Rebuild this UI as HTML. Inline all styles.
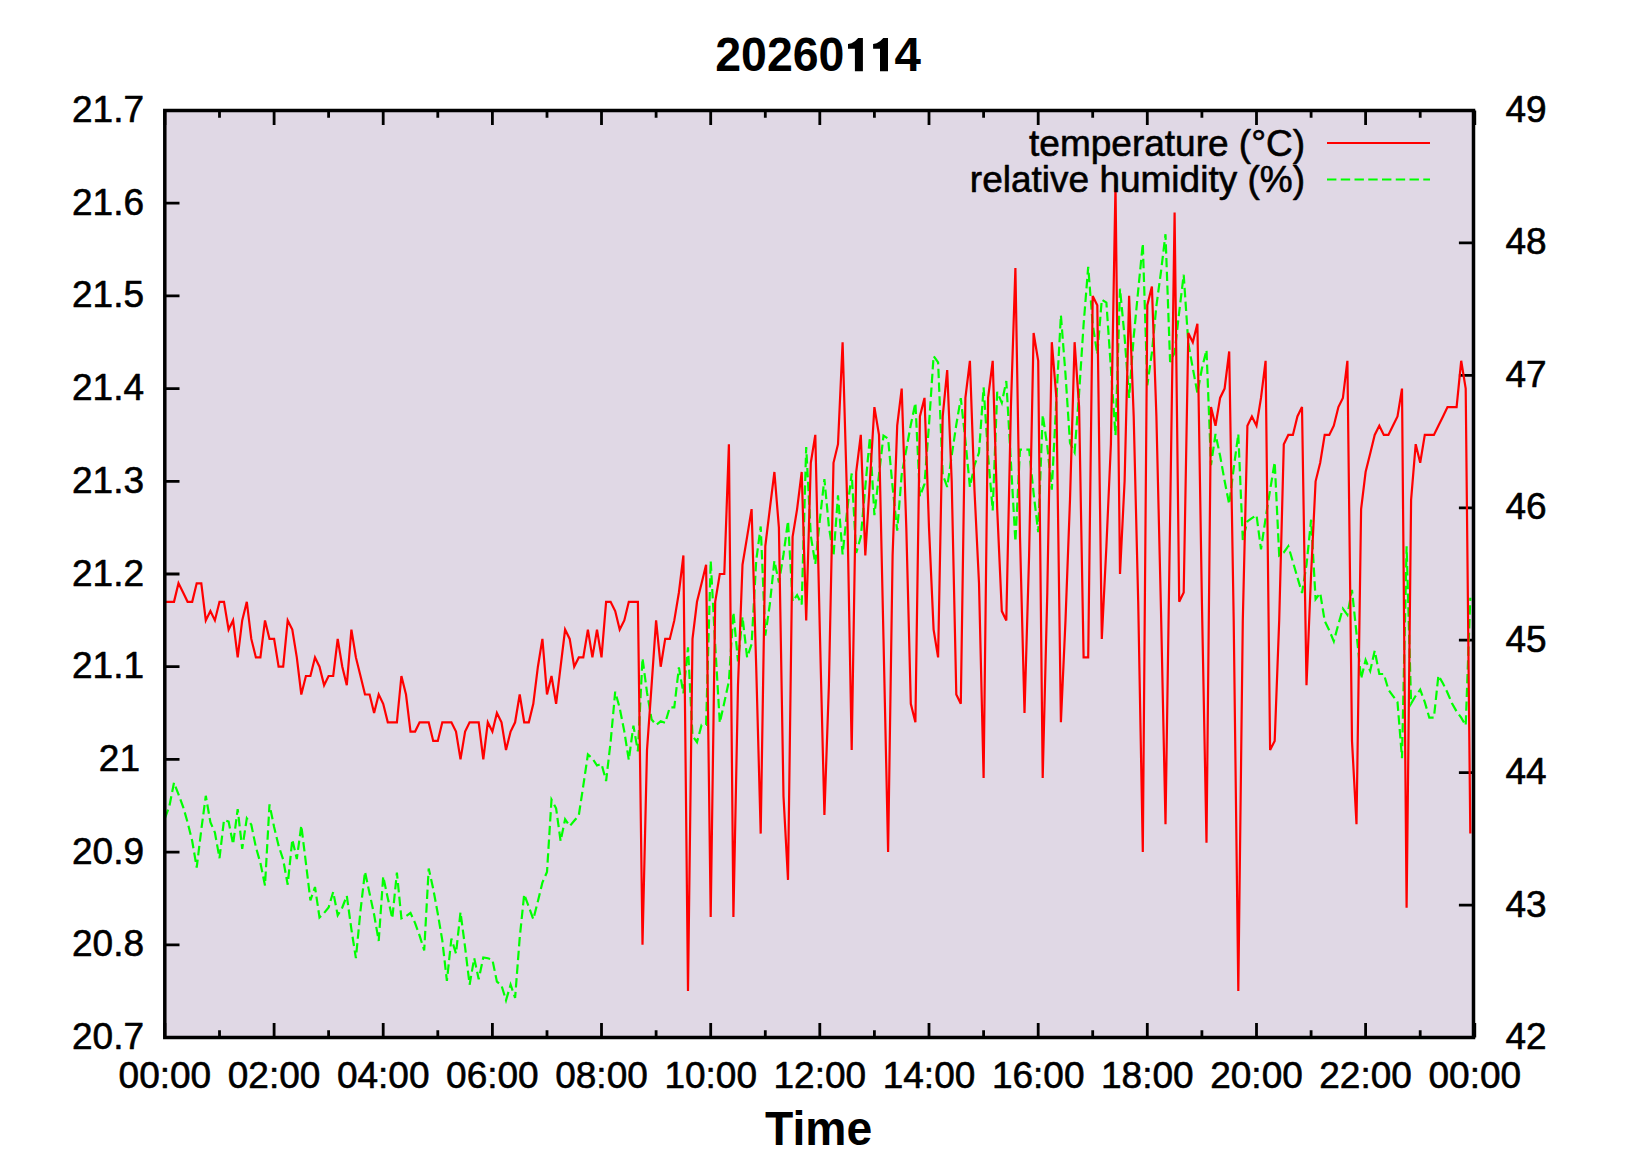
<!DOCTYPE html>
<html><head><meta charset="utf-8"><style>
html,body{margin:0;padding:0;background:#fff;}
svg{display:block;}
</style></head><body>
<svg width="1650" height="1155" viewBox="0 0 1650 1155">
<rect width="1650" height="1155" fill="#fff"/>
<rect x="164.8" y="110.5" width="1308.7" height="927.0" fill="#e0d8e5"/>
<path d="M164.9,1037.5v-14.5M164.9,110.5v14.5M219.5,1037.5v-7.3M219.5,110.5v7.3M274.1,1037.5v-14.5M274.1,110.5v14.5M328.6,1037.5v-7.3M328.6,110.5v7.3M383.2,1037.5v-14.5M383.2,110.5v14.5M437.8,1037.5v-7.3M437.8,110.5v7.3M492.4,1037.5v-14.5M492.4,110.5v14.5M547.0,1037.5v-7.3M547.0,110.5v7.3M601.5,1037.5v-14.5M601.5,110.5v14.5M656.1,1037.5v-7.3M656.1,110.5v7.3M710.7,1037.5v-14.5M710.7,110.5v14.5M765.3,1037.5v-7.3M765.3,110.5v7.3M819.8,1037.5v-14.5M819.8,110.5v14.5M874.4,1037.5v-7.3M874.4,110.5v7.3M929.0,1037.5v-14.5M929.0,110.5v14.5M983.6,1037.5v-7.3M983.6,110.5v7.3M1038.2,1037.5v-14.5M1038.2,110.5v14.5M1092.7,1037.5v-7.3M1092.7,110.5v7.3M1147.3,1037.5v-14.5M1147.3,110.5v14.5M1201.9,1037.5v-7.3M1201.9,110.5v7.3M1256.5,1037.5v-14.5M1256.5,110.5v14.5M1311.1,1037.5v-7.3M1311.1,110.5v7.3M1365.6,1037.5v-14.5M1365.6,110.5v14.5M1420.2,1037.5v-7.3M1420.2,110.5v7.3M1474.8,1037.5v-14.5M1474.8,110.5v14.5M164.8,110.5h14.7M164.8,203.2h14.7M164.8,295.9h14.7M164.8,388.6h14.7M164.8,481.3h14.7M164.8,574.0h14.7M164.8,666.7h14.7M164.8,759.4h14.7M164.8,852.1h14.7M164.8,944.8h14.7M164.8,1037.5h14.7M1473.5,110.5h-14.6M1473.5,242.9h-14.6M1473.5,375.4h-14.6M1473.5,507.8h-14.6M1473.5,640.2h-14.6M1473.5,772.6h-14.6M1473.5,905.1h-14.6M1473.5,1037.5h-14.6" stroke="#000" stroke-width="2.8" fill="none"/>
<polyline points="164.9,818.4 169.4,806.0 174.0,782.6 178.5,794.3 183.1,806.8 187.6,822.3 192.2,841.0 196.7,867.5 201.3,829.7 205.8,795.8 210.4,822.3 214.9,832.5 219.5,858.2 224.0,820.0 228.6,821.6 233.1,844.2 237.7,809.1 242.2,848.8 246.8,818.4 251.3,824.7 255.9,847.3 260.4,862.9 265.0,885.5 269.5,804.4 274.1,827.0 278.6,845.7 283.2,859.7 287.7,884.7 292.3,839.5 296.8,859.0 301.3,825.5 305.9,862.9 310.4,900.3 315.0,887.0 319.5,917.4 324.1,913.0 328.6,907.5 333.2,891.9 337.7,915.3 342.3,907.5 346.8,895.8 351.4,929.3 355.9,958.2 360.5,910.6 365.0,871.7 369.6,893.5 374.1,914.5 378.7,941.0 383.2,876.4 387.8,898.2 392.3,918.4 396.9,872.5 401.4,918.4 406.0,916.1 410.5,913.0 415.1,923.1 419.6,935.6 424.2,950.4 428.7,868.6 433.2,888.8 437.8,913.8 442.3,940.3 446.9,980.8 451.4,938.7 456.0,953.5 460.5,912.2 465.1,947.3 469.6,984.7 474.2,958.2 478.7,979.2 483.3,957.4 487.8,958.2 492.4,959.7 496.9,981.6 501.5,985.5 506.0,1000.3 510.6,984.7 515.1,997.9 519.7,937.9 524.2,894.3 528.8,906.8 533.3,919.2 537.9,901.3 542.4,882.6 547.0,872.0 551.5,799.7 556.1,808.3 560.6,841.0 565.1,819.2 569.7,826.2 574.2,820.8 578.8,815.3 583.3,785.7 587.9,754.5 592.4,758.4 597.0,765.5 601.5,763.9 606.1,781.0 610.6,742.1 615.2,691.7 619.7,708.1 624.3,731.4 628.8,760.0 633.4,725.7 637.9,751.4 642.5,658.2 647.0,692.5 651.6,719.5 656.1,724.9 660.7,721.3 665.2,722.9 669.8,707.3 674.3,707.3 678.9,667.5 683.4,693.2 688.0,647.3 692.5,735.8 697.0,742.1 701.6,724.9 706.1,724.9 710.7,560.8 715.2,644.9 719.8,722.9 724.3,702.5 728.9,681.3 733.4,612.2 738.0,661.3 742.5,616.9 747.1,657.4 751.6,644.2 756.2,560.8 760.7,526.5 765.3,635.6 769.8,604.4 774.4,560.8 778.9,582.6 783.5,554.5 788.0,521.0 792.6,601.3 797.1,595.1 801.7,604.4 806.2,447.0 810.8,535.8 815.3,563.9 819.8,520.3 824.4,479.0 828.9,526.5 833.5,556.1 838.0,495.3 842.6,554.5 847.1,510.9 851.7,473.5 856.2,553.0 860.8,536.9 865.3,487.0 869.9,437.1 874.4,515.1 879.0,474.5 883.5,435.6 888.1,438.7 892.6,487.0 897.2,530.7 901.7,474.5 906.3,449.6 910.8,424.7 915.4,402.9 919.9,496.4 924.5,483.9 929.0,424.7 933.6,356.1 938.1,362.3 942.7,474.5 947.2,487.0 951.7,455.8 956.3,424.7 960.8,398.2 965.4,440.3 969.9,487.0 974.5,465.2 979.0,452.7 983.6,387.3 988.1,455.8 992.7,510.4 997.2,391.9 1001.8,402.9 1006.3,381.0 1010.9,462.1 1015.4,541.6 1020.0,449.6 1024.5,449.6 1029.1,449.6 1033.6,493.2 1038.2,532.2 1042.7,414.9 1047.3,446.1 1051.8,489.7 1056.4,399.4 1060.9,315.2 1065.5,374.4 1070.0,443.0 1074.6,452.3 1079.1,393.1 1083.6,324.5 1088.2,266.9 1092.7,324.5 1097.3,354.2 1101.8,299.6 1106.4,302.7 1110.9,368.2 1115.5,435.2 1120.0,288.7 1124.6,337.0 1129.1,397.8 1133.7,337.0 1138.2,290.3 1142.8,243.5 1147.3,385.3 1151.9,352.6 1156.4,305.8 1161.0,271.6 1165.5,234.2 1170.1,362.0 1174.6,352.6 1179.2,312.1 1183.7,274.7 1188.3,343.2 1192.8,368.2 1197.4,393.1 1201.9,368.6 1206.5,349.9 1211.0,465.2 1215.5,434.0 1220.1,455.8 1224.6,480.8 1229.2,504.2 1233.7,468.3 1238.3,434.0 1242.8,540.0 1247.4,521.3 1251.9,518.2 1256.5,515.1 1261.0,549.4 1265.6,518.2 1270.1,490.1 1274.7,462.1 1279.2,555.6 1283.8,552.5 1288.3,546.2 1292.9,561.8 1297.4,577.4 1302.0,593.0 1306.5,564.9 1311.1,519.7 1315.6,599.2 1320.2,593.0 1324.7,621.0 1329.3,630.4 1333.8,641.3 1338.4,624.2 1342.9,608.6 1347.4,614.8 1352.0,589.9 1356.5,633.5 1361.1,678.7 1365.6,660.0 1370.2,670.9 1374.7,650.7 1379.3,674.0 1383.8,674.0 1388.4,689.6 1392.9,695.8 1397.5,702.1 1402.0,758.2 1406.6,546.2 1411.1,703.6 1415.7,695.8 1420.2,689.6 1424.8,702.1 1429.3,717.7 1433.9,717.7 1438.4,675.6 1443.0,683.4 1447.5,692.7 1452.1,703.6 1456.6,711.4 1461.2,717.7 1465.7,725.5 1470.3,597.7" fill="none" stroke="#00ff00" stroke-width="2.2" stroke-dasharray="9.4,4.35" stroke-linejoin="miter"/>
<polyline points="164.9,601.8 169.4,601.8 174.0,601.8 178.5,583.3 183.1,592.5 187.6,601.8 192.2,601.8 196.7,583.3 201.3,583.3 205.8,620.4 210.4,611.1 214.9,620.4 219.5,601.8 224.0,601.8 228.6,629.6 233.1,620.4 237.7,657.4 242.2,620.4 246.8,601.8 251.3,638.9 255.9,657.4 260.4,657.4 265.0,620.4 269.5,638.9 274.1,638.9 278.6,666.7 283.2,666.7 287.7,620.4 292.3,629.6 296.8,657.4 301.3,694.5 305.9,676.0 310.4,676.0 315.0,657.4 319.5,666.7 324.1,685.2 328.6,676.0 333.2,676.0 337.7,638.9 342.3,666.7 346.8,685.2 351.4,629.6 355.9,657.4 360.5,676.0 365.0,694.5 369.6,694.5 374.1,713.0 378.7,694.5 383.2,703.8 387.8,722.3 392.3,722.3 396.9,722.3 401.4,676.0 406.0,694.5 410.5,731.6 415.1,731.6 419.6,722.3 424.2,722.3 428.7,722.3 433.2,740.9 437.8,740.9 442.3,722.3 446.9,722.3 451.4,722.3 456.0,731.6 460.5,759.4 465.1,731.6 469.6,722.3 474.2,722.3 478.7,722.3 483.3,759.4 487.8,722.3 492.4,731.6 496.9,713.0 501.5,722.3 506.0,750.1 510.6,731.6 515.1,722.3 519.7,694.5 524.2,722.3 528.8,722.3 533.3,703.8 537.9,666.7 542.4,638.9 547.0,694.5 551.5,676.0 556.1,703.8 560.6,666.7 565.1,629.6 569.7,638.9 574.2,666.7 578.8,657.4 583.3,657.4 587.9,629.6 592.4,657.4 597.0,629.6 601.5,657.4 606.1,601.8 610.6,601.8 615.2,611.1 619.7,629.6 624.3,620.4 628.8,601.8 633.4,601.8 637.9,601.8 642.5,944.8 647.0,750.1 651.6,685.2 656.1,620.4 660.7,666.7 665.2,638.9 669.8,638.9 674.3,620.4 678.9,592.5 683.4,555.5 688.0,991.1 692.5,638.9 697.0,601.8 701.6,583.3 706.1,564.7 710.7,917.0 715.2,601.8 719.8,574.0 724.3,574.0 728.9,444.2 733.4,917.0 738.0,685.2 742.5,564.7 747.1,536.9 751.6,509.1 756.2,666.7 760.7,833.6 765.3,546.2 769.8,509.1 774.4,472.0 778.9,527.6 783.5,796.5 788.0,879.9 792.6,536.9 797.1,509.1 801.7,472.0 806.2,620.4 810.8,462.8 815.3,434.9 819.8,629.6 824.4,815.0 828.9,685.2 833.5,462.8 838.0,444.2 842.6,342.2 847.1,499.8 851.7,750.1 856.2,472.0 860.8,434.9 865.3,555.5 869.9,481.3 874.4,407.1 879.0,434.9 883.5,638.9 888.1,852.1 892.6,555.5 897.2,425.7 901.7,388.6 906.3,527.6 910.8,703.8 915.4,722.3 919.9,416.4 924.5,397.9 929.0,527.6 933.6,629.6 938.1,657.4 942.7,416.4 947.2,370.1 951.7,481.3 956.3,694.5 960.8,703.8 965.4,397.9 969.9,360.8 974.5,490.6 979.0,583.3 983.6,777.9 988.1,397.9 992.7,360.8 997.2,509.1 1001.8,611.1 1006.3,620.4 1010.9,407.1 1015.4,268.1 1020.0,536.9 1024.5,713.0 1029.1,555.5 1033.6,333.0 1038.2,360.8 1042.7,777.9 1047.3,592.5 1051.8,342.2 1056.4,397.9 1060.9,722.3 1065.5,620.4 1070.0,499.8 1074.6,342.2 1079.1,407.1 1083.6,657.4 1088.2,657.4 1092.7,295.9 1097.3,305.2 1101.8,638.9 1106.4,546.2 1110.9,444.2 1115.5,184.7 1120.0,574.0 1124.6,481.3 1129.1,295.9 1133.7,416.4 1138.2,601.8 1142.8,852.1 1147.3,305.2 1151.9,286.6 1156.4,416.4 1161.0,611.1 1165.5,824.3 1170.1,518.4 1174.6,212.5 1179.2,601.8 1183.7,592.5 1188.3,333.0 1192.8,342.2 1197.4,323.7 1201.9,601.8 1206.5,842.8 1211.0,407.1 1215.5,425.7 1220.1,397.9 1224.6,388.6 1229.2,351.5 1233.7,620.4 1238.3,991.1 1242.8,620.4 1247.4,425.7 1251.9,416.4 1256.5,425.7 1261.0,397.9 1265.6,360.8 1270.1,750.1 1274.7,740.9 1279.2,620.4 1283.8,444.2 1288.3,434.9 1292.9,434.9 1297.4,416.4 1302.0,407.1 1306.5,685.2 1311.1,574.0 1315.6,481.3 1320.2,462.8 1324.7,434.9 1329.3,434.9 1333.8,425.7 1338.4,407.1 1342.9,397.9 1347.4,360.8 1352.0,740.9 1356.5,824.3 1361.1,509.1 1365.6,472.0 1370.2,453.5 1374.7,434.9 1379.3,425.7 1383.8,434.9 1388.4,434.9 1392.9,425.7 1397.5,416.4 1402.0,388.6 1406.6,907.7 1411.1,499.8 1415.7,444.2 1420.2,462.8 1424.8,434.9 1429.3,434.9 1433.9,434.9 1438.4,425.7 1443.0,416.4 1447.5,407.1 1452.1,407.1 1456.6,407.1 1461.2,360.8 1465.7,388.6 1470.3,833.6" fill="none" stroke="#ff0000" stroke-width="2.2" stroke-linejoin="miter"/>
<rect x="164.8" y="110.5" width="1308.7" height="927.0" fill="none" stroke="#000" stroke-width="3.5"/>
<line x1="1327" y1="143" x2="1430" y2="143" stroke="#ff0000" stroke-width="2.2"/>
<line x1="1327" y1="179.5" x2="1430" y2="179.5" stroke="#00ff00" stroke-width="2.2" stroke-dasharray="9.4,4.35"/>
<g font-family='"Liberation Sans", sans-serif' font-size="37" fill="#000" stroke="#000" stroke-width="0.6" stroke-linejoin="round">
<text x="1305" y="155.5" text-anchor="end">temperature (°C)</text>
<text x="1305" y="192" text-anchor="end">relative humidity (%)</text>
<text x="144" y="122.0" text-anchor="end">21.7</text>
<text x="144" y="214.7" text-anchor="end">21.6</text>
<text x="144" y="307.4" text-anchor="end">21.5</text>
<text x="144" y="400.1" text-anchor="end">21.4</text>
<text x="144" y="492.8" text-anchor="end">21.3</text>
<text x="144" y="585.5" text-anchor="end">21.2</text>
<text x="144" y="678.2" text-anchor="end">21.1</text>
<text x="140" y="770.9" text-anchor="end">21</text>
<text x="144" y="863.6" text-anchor="end">20.9</text>
<text x="144" y="956.3" text-anchor="end">20.8</text>
<text x="144" y="1049.0" text-anchor="end">20.7</text>
<text x="1505.5" y="122.0">49</text>
<text x="1505.5" y="254.4">48</text>
<text x="1505.5" y="386.9">47</text>
<text x="1505.5" y="519.3">46</text>
<text x="1505.5" y="651.7">45</text>
<text x="1505.5" y="784.1">44</text>
<text x="1505.5" y="916.6">43</text>
<text x="1505.5" y="1049.0">42</text>
<text x="164.9" y="1088" text-anchor="middle">00:00</text>
<text x="274.1" y="1088" text-anchor="middle">02:00</text>
<text x="383.2" y="1088" text-anchor="middle">04:00</text>
<text x="492.4" y="1088" text-anchor="middle">06:00</text>
<text x="601.5" y="1088" text-anchor="middle">08:00</text>
<text x="710.7" y="1088" text-anchor="middle">10:00</text>
<text x="819.8" y="1088" text-anchor="middle">12:00</text>
<text x="929.0" y="1088" text-anchor="middle">14:00</text>
<text x="1038.2" y="1088" text-anchor="middle">16:00</text>
<text x="1147.3" y="1088" text-anchor="middle">18:00</text>
<text x="1256.5" y="1088" text-anchor="middle">20:00</text>
<text x="1365.6" y="1088" text-anchor="middle">22:00</text>
<text x="1474.8" y="1088" text-anchor="middle">00:00</text>
</g>
<g transform="translate(0,71.2) scale(1,1.045) translate(0,-71.2)" font-family='"Liberation Sans", sans-serif' font-weight="bold" fill="#000"><text x="715.2" y="71.2" font-size="46.5">20260</text></g><text x="921" y="71.2" text-anchor="end" font-size="47.5" font-family='"Liberation Sans", sans-serif' font-weight="bold">4</text>
<path transform="translate(0,0)" d="M848,48.8 L848,43.9 L851.5,43.2 Q855.5,41.5 858.2,38 L862.9,38 L862.9,71.2 L854.9,71.2 L854.9,48.8 Z" fill="#000"/>
<path transform="translate(25.1,0)" d="M848,48.8 L848,43.9 L851.5,43.2 Q855.5,41.5 858.2,38 L862.9,38 L862.9,71.2 L854.9,71.2 L854.9,48.8 Z" fill="#000"/>
<text transform="translate(0,1144.8) scale(1,1.047) translate(0,-1144.8)" x="818.6" y="1144.8" text-anchor="middle" font-family='"Liberation Sans", sans-serif' font-size="46.3" font-weight="bold">Time</text>
</svg>
</body></html>
